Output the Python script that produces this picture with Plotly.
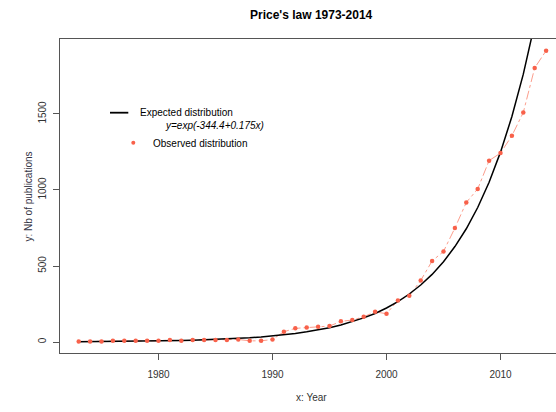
import plotly.graph_objects as go

# ---- data ----
years = list(range(1973, 2015))
observed = [4, 4, 4, 8, 8, 8, 8, 8, 13, 8,
            13, 13, 13, 13, 17, 8, 8, 17, 68, 90,
            95, 101, 105, 136, 145, 166, 199, 186, 274, 305,
            405, 533, 596, 750, 918, 1007, 1193, 1243, 1357, 1510,
            1803, 1916]
expected = [2.2, 2.6, 3.0, 3.6, 4.3, 5.1, 6.0, 7.2, 8.5, 10.1,
            12.0, 14.3, 16.9, 20.1, 23.9, 28.4, 33.7, 40.0, 47.6, 56.5,
            67.1, 79.7, 94.6, 112, 134, 159, 188, 224, 266, 316,
            375, 445, 528, 628, 745, 885, 1051, 1249, 1483, 1762,
            2093, 2486]
x_ticks = [1980, 1990, 2000, 2010]
y_ticks = [0, 500, 1000, 1500]

title_text = "Price's law 1973-2014"
x_title = "x: Year"
y_title = "y: Nb of publications"
leg_expected = "Expected distribution"
leg_formula = "<i>y=exp(-344.4+0.175x)</i>"
leg_observed = "Observed distribution"

# ---- layout geometry (pixels) ----
W, H = 556, 412
L, R, T, B = 60, 0, 39, 59
PW, PH = W - L - R, H - T - B
FONT = "Liberation Sans, Arial, sans-serif"
AX = "#555555"
TXT = "#333333"


def px(x):
    return (x - L) / PW


def py(y):
    return 1 - (y - T) / PH


fig = go.Figure()

fig.add_trace(go.Scatter(
    x=years, y=observed, mode="lines",
    line=dict(color="rgba(250,140,120,0.85)", width=1, dash="dashdot"),
    hoverinfo="skip", showlegend=False))
fig.add_trace(go.Scatter(
    x=years, y=expected, mode="lines",
    line=dict(color="black", width=1.5),
    showlegend=False))
fig.add_trace(go.Scatter(
    x=years, y=observed, mode="markers",
    marker=dict(color="#F8614A", size=4.5),
    showlegend=False))

annotations = [
    dict(text=f"<b>{title_text}</b>", xref="paper", yref="paper",
         x=px(311.5), y=py(15), xanchor="center", yanchor="middle",
         showarrow=False, font=dict(size=12, color="black", family=FONT)),
    dict(text=x_title, xref="paper", yref="paper",
         x=px(311.7), y=py(397), xanchor="center", yanchor="middle",
         showarrow=False, font=dict(size=10, color=TXT, family=FONT)),
    dict(text=y_title, xref="paper", yref="paper", textangle=-90,
         x=px(28), y=py(196.5), xanchor="center", yanchor="middle",
         showarrow=False, font=dict(size=10, color="#333344", family=FONT)),
    dict(text=leg_expected, xref="paper", yref="paper",
         x=px(138.3), y=py(112.5), xanchor="left", yanchor="middle",
         showarrow=False, font=dict(size=10, color="black", family=FONT)),
    dict(text=leg_formula, xref="paper", yref="paper",
         x=px(163.3), y=py(125.5), xanchor="left", yanchor="middle",
         showarrow=False, font=dict(size=10, color="black", family=FONT)),
    dict(text=leg_observed, xref="paper", yref="paper",
         x=px(150.7), y=py(143.2), xanchor="left", yanchor="middle",
         showarrow=False, font=dict(size=10, color="black", family=FONT)),
]

shapes = [
    dict(type="line", xref="paper", yref="paper",
         x0=px(110), x1=px(128.3), y0=py(112.7), y1=py(112.7),
         line=dict(color="black", width=1.8)),
    dict(type="circle", xref="paper", yref="paper",
         x0=px(131.3), x1=px(135.3), y0=py(140.7), y1=py(144.7),
         fillcolor="#F8614A", line=dict(width=0)),
]

fig.update_layout(
    width=W, height=H,
    margin=dict(l=L, r=R, t=T, b=B, pad=0),
    paper_bgcolor="white", plot_bgcolor="white",
    font=dict(family=FONT, size=10, color=TXT),
    annotations=annotations, shapes=shapes,
    showlegend=False,
    xaxis=dict(range=[1971.36, 1971.36 + PW / 11.4],
               tickvals=x_ticks, ticks="outside", ticklen=6, tickcolor=AX,
               showline=True, linecolor=AX, linewidth=1, mirror=True,
               showgrid=False, zeroline=False,
               tickfont=dict(size=10, color=TXT, family=FONT),
               ticklabelstandoff=6),
    yaxis=dict(range=[-72, 1993],
               tickvals=y_ticks, ticks="outside", ticklen=6, tickcolor=AX,
               showline=True, linecolor=AX, linewidth=1,
               showgrid=False, zeroline=False, tickangle=-90,
               tickfont=dict(size=10, color=TXT, family=FONT),
               ticklabelstandoff=3),
)

fig.write_html(
    "out.html",
    config={"displayModeBar": False},
    post_script="document.body.style.margin='0';document.body.style.overflow='hidden';",
)
